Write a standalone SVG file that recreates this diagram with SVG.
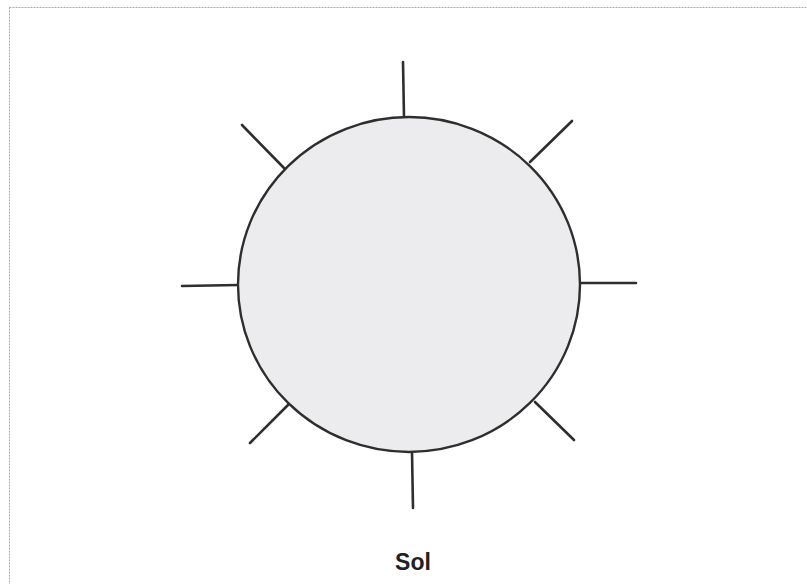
<svg xmlns="http://www.w3.org/2000/svg" width="807" height="584" viewBox="0 0 807 584">
<style>
.ray{stroke:#2e2e2e;stroke-width:2.6;stroke-linecap:round;fill:none}
.sun{fill:#ececee;stroke:#2e2e2e;stroke-width:2.4}
.lbl{font-family:"Liberation Sans",Arial,sans-serif;font-weight:bold;font-size:23px;fill:#222}
</style>
<rect x="0" y="0" width="807" height="584" fill="#fff"/>
<rect x="9.5" y="7.5" width="820" height="600" fill="none" stroke="#aaa" stroke-width="1" stroke-dasharray="2,1"/>
<g id="connectors">
<line class="ray" x1="403" y1="62" x2="404" y2="117"/>
<line class="ray" x1="530" y1="162" x2="572" y2="121"/>
<line class="ray" x1="580" y1="283" x2="636" y2="283"/>
<line class="ray" x1="535" y1="402" x2="574" y2="440"/>
<line class="ray" x1="412" y1="452" x2="413" y2="508"/>
<line class="ray" x1="288" y1="405" x2="250" y2="443"/>
<line class="ray" x1="238" y1="285" x2="182" y2="286"/>
<line class="ray" x1="242" y1="125" x2="284" y2="168"/>
</g>
<g id="sun">
<ellipse class="sun" cx="409" cy="284.5" rx="171" ry="167.5"/>
</g>
<g id="label">
<text class="lbl" x="413" y="570" text-anchor="middle">Sol</text>
</g>
</svg>
